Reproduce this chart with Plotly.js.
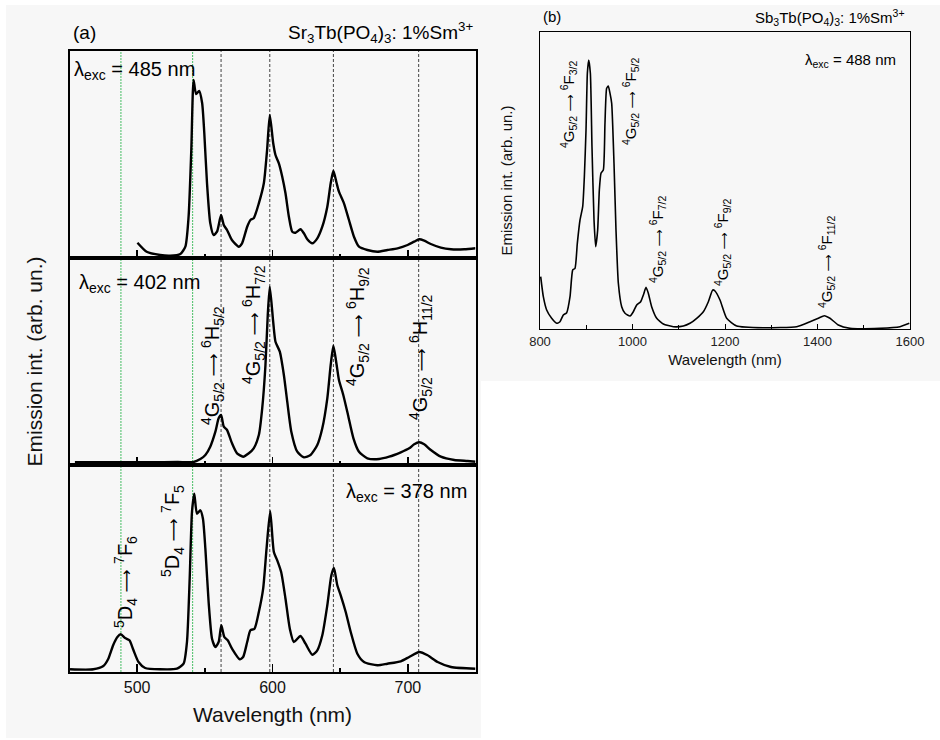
<!DOCTYPE html>
<html>
<head>
<meta charset="utf-8">
<script src="https://cdn.plot.ly/plotly-3.0.1.min.js"></script>
<style>html,body{margin:0;padding:0;background:#fff}#chart{width:940px;height:740px}</style>
</head>
<body>
<div id="chart"></div>
<script>
// ---------- DATA ----------
// Panel (a): Sr3Tb(PO4)3:1%Sm3+, emission under three excitations
const wl485 = [500.2,507,517,524.4,531.9,535.6,538,540,541.7,543.5,545.8,548,549.6,551.6,554,556.5,559,562,564,566.4,570,575,577.5,581.3,583.7,586.1,589.9,593.6,596,598,600.5,602.2,604.7,607.2,609.6,612.1,614.6,617,620.7,623.2,625.7,629.4,633.1,636.8,640.5,643,645,647.4,649.1,652.8,656.5,660.2,663.9,670.1,677.5,684.9,692.4,699.8,704.7,708.4,712.1,717,724.4,731.9,741.7,750];
const int485 = [15.3,6.3,3,2.3,4,11.3,41.3,108,178,164,167,155,125,75,35,23,26.3,43,33,28,18,11.3,14.7,31.3,38,39.7,54.7,74.7,108,143,115,103,94.7,81.3,64.7,41.3,26.3,25.3,28.7,24.7,18.7,14.7,19.7,31.3,51.3,74.7,87.3,74.7,66.3,54.7,38,21.3,11.3,8,6.3,8,9.7,13,16.3,18.7,17.3,14,10.3,8.7,8.7,9.7];

const wl402 = [454,480,510,530,541.7,546.7,550.4,554,557.8,560.2,562,564,566.4,570.1,573.8,578.3,582.5,586.1,589.9,592.4,594.8,596.5,598,600.5,602.2,605.4,608.4,610.9,613.9,618.3,623.2,628.1,633.1,636.8,640.5,643,645,647.4,649.1,652.3,655.8,659.8,663.9,670.1,678.8,686.2,694.8,701,704.7,708.4,712.1,717,724.4,734.3,744.2,750];
const int402 = [2.7,2.8,2.8,3,3,6,10,18.3,33.3,46.7,50,38.3,35,21.7,11.7,8.3,11.7,16.7,30,56.7,100,150,178.3,143.3,123.3,113.3,90,63.3,33.3,13.3,7.7,10,20,36.7,66.7,100,119.3,100,85,70,50,26.7,13.3,6.7,6,8.3,12.7,16.7,20.7,22.7,20.7,15,8.3,5,4,3.3];

const wl378 = [450.4,467.6,475,478.7,482.4,485.4,487.9,491.1,494.3,497.3,501,505.9,517,529.4,534.3,536.8,538.8,540.5,542.2,544.2,546.7,548.6,550.4,552.8,555.3,557.8,560.2,562.2,564.4,566.9,570.1,575.8,578.3,581.3,583.7,586.7,589.9,593.1,595.6,598.3,601,603.5,606.4,609.6,612.8,615.8,620.7,624.4,629.4,633.1,636.8,640.5,643.5,645.4,647.9,650.4,654.1,657.8,662.7,667.6,677.5,684.9,694.8,701,708.4,714.6,722,731.9,750];
const int378 = [2.7,2.7,6,13.3,27.3,35,37.7,34,31.7,21.7,10,4,2.7,3.3,8.3,30,93.3,160,178.3,158.3,161.7,153.3,123.3,70,33.3,25,30,46.7,35,31.7,23.3,12.7,15,30,41.7,43.3,60,83.3,123.3,160.7,120,111.7,100,73.3,43.3,30,36,28.3,17.3,21.7,36.7,66.7,96.7,104,86.7,76.7,60,40,18.3,10,6.7,8.3,10.7,15,20,16.7,10,5,3.3];

// Panel (b): Sb3Tb(PO4)3:1%Sm3+, NIR emission, exc 488 nm
const wlNIR = [801.5,807.2,814.4,825.2,836,843.2,850.4,857.7,864.9,870.7,875.7,880.7,886.5,892.3,895.9,899.5,902.4,905.3,908.9,912.4,916.8,920.4,924.7,928.3,931.9,936.9,940.5,944.1,947.7,951.4,955,960,964.3,969.4,976.6,983.8,994.6,1001.8,1009.1,1017.7,1023.5,1029.2,1034.2,1041.4,1052.3,1066.7,1088.3,1109.9,1124.3,1138.8,1153.2,1164,1173.4,1178.4,1189.2,1203.6,1225.3,1282.9,1355,1383.8,1401.8,1414.8,1427,1445,1470.3,1535.1,1578.4,1598.5];
const intNIR = [52.3,32.3,19,10.7,5.7,7.3,14,16.3,32.3,59,60.7,85.7,109,122.3,152.3,199,255.7,269,255.7,182.3,109,82.3,99,139,155.7,159,205.7,240.7,243,235.7,225.7,165.7,99,45.7,22.3,15.7,13,17.3,24,27.3,34,41.7,35.7,22.3,10.7,5,2.3,3,5.7,10.7,17.3,27.3,39,38,29,10.7,3,1.3,2.3,7.3,10.7,13.3,10.7,4,0.7,0.7,2.3,5.7];

// Reference transition lines (nm)
const tbLines = [488, 541];
const smLines = [562, 598, 645, 708];

// Text labels
const arrow = sz => '<span style="font-family:DejaVu Sans;font-size:' + sz + 'px;color:#000000">⟶</span>';
const trans = (a, b, sz) => a + ' ' + arrow(sz) + ' ' + b;
const G52 = '<sup>4</sup>G<sub>5/2</sub>';
const D4 = '<sup>5</sup>D<sub>4</sub>';
const excLabels = ['λ<sub>exc</sub> = 485 nm', 'λ<sub>exc</sub> = 402 nm', 'λ<sub>exc</sub> = 378 nm', 'λ<sub>exc</sub> = 488 nm'];
const smVisLabels = [trans(G52, '<sup>6</sup>H<sub>5/2</sub>', 16), trans(G52, '<sup>6</sup>H<sub>7/2</sub>', 16), trans(G52, '<sup>6</sup>H<sub>9/2</sub>', 16), trans(G52, '<sup>6</sup>H<sub>11/2</sub>', 16)];
const tbLabels = [trans(D4, '<sup>7</sup>F<sub>6</sub>', 16), trans(D4, '<sup>7</sup>F<sub>5</sub>', 16)];
const smNirLabels = [trans(G52, '<sup>6</sup>F<sub>3/2</sub>', 12), trans(G52, '<sup>6</sup>F<sub>5/2</sub>', 12), trans(G52, '<sup>6</sup>F<sub>7/2</sub>', 12), trans(G52, '<sup>6</sup>F<sub>9/2</sub>', 12), trans(G52, '<sup>6</sup>F<sub>11/2</sub>', 12)];

// ---------- LAYOUT HELPERS ----------
const W = 940, H = 740;
const px = x => x / W;
const py = y => 1 - y / H;
const FONT = 'Liberation Sans, Arial, sans-serif';

const aL = 69.5, aR = 475.5;
const aTop = 51, aS1 = 258, aS2 = 465, aBot = 672;
const bL = 540, bR = 910, bTop = 32, bBot = 329;

const lineStyle = {color: '#000', width: 2.4, shape: 'spline', smoothing: 0.6};
const traces = [
  {x: wl378, y: int378, xaxis: 'x', yaxis: 'y', mode: 'lines', line: lineStyle, name: 'λexc = 378 nm'},
  {x: wl402, y: int402, xaxis: 'x2', yaxis: 'y2', mode: 'lines', line: lineStyle, name: 'λexc = 402 nm'},
  {x: wl485, y: int485, xaxis: 'x3', yaxis: 'y3', mode: 'lines', line: lineStyle, name: 'λexc = 485 nm'},
  {x: wlNIR, y: intNIR, xaxis: 'x4', yaxis: 'y4', mode: 'lines', line: {color: '#000', width: 1.6, shape: 'spline', smoothing: 0.5}, name: 'λexc = 488 nm'}
];

const xa = (anchor, extra) => Object.assign({
  domain: [px(aL), px(aR)], range: [450, 750], anchor: anchor,
  showline: true, mirror: true, linecolor: '#000', linewidth: 2,
  showgrid: false, zeroline: false,
  ticks: 'inside', ticklen: 8, tickwidth: 1.5, tickcolor: '#000', tick0: 0, dtick: 100,
  minor: {ticks: 'inside', ticklen: 4, tickwidth: 1.5, tickcolor: '#000', dtick: 50, showgrid: false},
  tickfont: {family: FONT, size: 16, color: '#111'}
}, extra);
const ya = (dom, extra) => Object.assign({
  domain: dom, range: [0, 207], showline: true, mirror: true, linecolor: '#000', linewidth: 2,
  showgrid: false, zeroline: false, ticks: '', showticklabels: false, fixedrange: true
}, extra);

const shapes = [
  {type: 'rect', xref: 'paper', yref: 'paper', x0: px(6), x1: px(481), y0: py(738), y1: py(5), fillcolor: '#f7f7f7', line: {width: 0}, layer: 'below'},
  {type: 'rect', xref: 'paper', yref: 'paper', x0: px(481), x1: 1, y0: py(381), y1: py(5), fillcolor: '#f7f7f7', line: {width: 0}, layer: 'below'}
];
tbLines.forEach(v => shapes.push({type: 'line', xref: 'x', yref: 'paper', x0: v, x1: v, y0: py(aBot), y1: py(aTop), line: {color: 'rgb(70,190,100)', width: 1, dash: '2px,1px'}, layer: 'below'}));
smLines.forEach(v => shapes.push({type: 'line', xref: 'x', yref: 'paper', x0: v, x1: v, y0: py(aBot), y1: py(aTop), line: {color: '#444', width: 1, dash: '3px,2px'}, layer: 'below'}));

const ann = (text, x, y, size, opts) => Object.assign({
  text: text, xref: 'paper', yref: 'paper', x: px(x), y: py(y), showarrow: false,
  xanchor: 'center', yanchor: 'middle', font: {family: FONT, size: size, color: '#000'}
}, opts || {});

const annotations = [
  ann('(a)', 71, 33, 19, {xanchor: 'left'}),
  ann('Sr<sub>3</sub>Tb(PO<sub>4</sub>)<sub>3</sub>: 1%Sm<sup>3+</sup>', 475, 33, 19, {xanchor: 'right'}),
  ann(excLabels[0], 72, 70, 20, {xanchor: 'left'}),
  ann(excLabels[1], 77, 283, 20, {xanchor: 'left'}),
  ann(excLabels[2], 469, 492, 20, {xanchor: 'right'}),
  ann(smVisLabels[0], 212, 366, 20, {textangle: -90}),
  ann(smVisLabels[1], 253, 325, 20, {textangle: -90}),
  ann(smVisLabels[2], 357, 327, 20, {textangle: -90}),
  ann(smVisLabels[3], 420, 357, 20, {textangle: -90}),
  ann(tbLabels[0], 125, 582, 20, {textangle: -90}),
  ann(tbLabels[1], 172, 531, 20, {textangle: -90}),
  ann('(b)', 541, 17, 15, {xanchor: 'left'}),
  ann('Sb<sub>3</sub>Tb(PO<sub>4</sub>)<sub>3</sub>: 1%Sm<sup>3+</sup>', 907, 18, 15, {xanchor: 'right'}),
  ann(excLabels[3], 898, 60, 15, {xanchor: 'right'}),
  ann(smNirLabels[0], 568, 105, 15, {textangle: -90}),
  ann(smNirLabels[1], 630, 102, 15, {textangle: -90}),
  ann(smNirLabels[2], 657, 240, 15, {textangle: -90}),
  ann(smNirLabels[3], 723, 243, 15, {textangle: -90}),
  ann(smNirLabels[4], 827, 262, 15, {textangle: -90})
];

const layout = {
  width: W, height: H, margin: {l: 0, r: 0, t: 0, b: 0},
  paper_bgcolor: '#ffffff', plot_bgcolor: 'rgba(0,0,0,0)',
  showlegend: false, font: {family: FONT, color: '#000'},
  xaxis: xa('y', {title: {text: 'Wavelength (nm)', font: {family: FONT, size: 21, color: '#111'}, standoff: 12}}),
  xaxis2: xa('y2', {matches: 'x', showticklabels: false}),
  xaxis3: xa('y3', {matches: 'x', showticklabels: false}),
  yaxis: ya([py(aBot), py(aS2)], {anchor: 'x'}),
  yaxis2: ya([py(aS2), py(aS1)], {anchor: 'x2', title: {text: 'Emission int. (arb. un.)', font: {family: FONT, size: 21, color: '#111'}, standoff: 19}}),
  yaxis3: ya([py(aS1), py(aTop)], {anchor: 'x3'}),
  xaxis4: {
    domain: [px(bL), px(bR)], range: [800, 1600], anchor: 'y4',
    showline: true, mirror: true, linecolor: '#000', linewidth: 1.2,
    showgrid: false, zeroline: false,
    ticks: 'inside', ticklen: 5, tickwidth: 1, tickcolor: '#000', tick0: 0, dtick: 200,
    minor: {ticks: 'inside', ticklen: 4, tickwidth: 1, tickcolor: '#000', dtick: 100, showgrid: false},
    tickfont: {family: FONT, size: 13, color: '#222'},
    title: {text: 'Wavelength (nm)', font: {family: FONT, size: 15, color: '#111'}, standoff: 6}
  },
  yaxis4: {
    domain: [py(bBot), py(bTop)], range: [0, 297], anchor: 'x4',
    showline: true, mirror: true, linecolor: '#000', linewidth: 1.2,
    showgrid: false, zeroline: false, ticks: '', showticklabels: false,
    title: {text: 'Emission int. (arb. un.)', font: {family: FONT, size: 15, color: '#111'}, standoff: 22}
  },
  shapes: shapes,
  annotations: annotations
};

Plotly.newPlot('chart', traces, layout, {displayModeBar: false, staticPlot: true});
</script>
</body>
</html>
